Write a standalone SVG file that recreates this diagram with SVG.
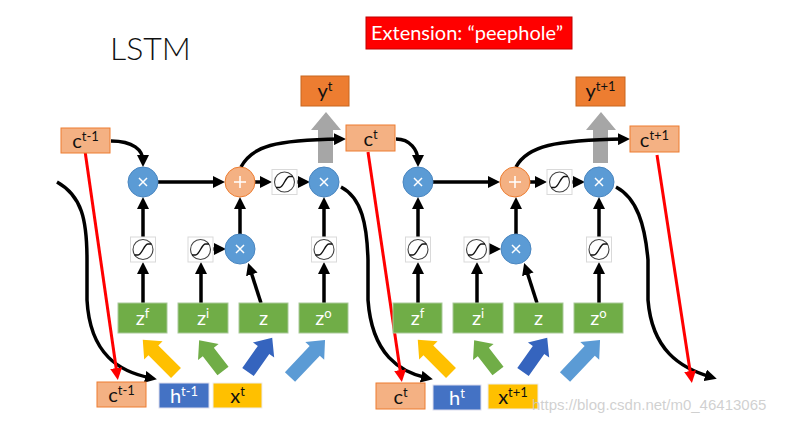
<svg xmlns="http://www.w3.org/2000/svg" width="789" height="424" viewBox="0 0 789 424">
<defs>
<style>
text{font-family:Lato,"Liberation Sans","DejaVu Sans",sans-serif;}
.cbox{fill:#F4B183;stroke:#ED7D31;stroke-width:1;}
.ybox{fill:#ED7D31;stroke:#C8661F;stroke-width:1;}
.gbox{fill:#70AD47;stroke:#A9C99A;stroke-width:1;}
.mul{fill:#5B9BD5;stroke:#4A86C0;stroke-width:1;}
.add{fill:#F4B183;stroke:#ED7D31;stroke-width:1;}
.op{stroke:#fff;stroke-width:1.5;fill:none;}
.sigbox{fill:#fff;stroke:#d9d9d9;stroke-width:1;}
.sigc{fill:#fff;stroke:#444;stroke-width:1.1;}
.sigs{fill:none;stroke:#111;stroke-width:1.4;}
.lbl{font-size:20px;fill:#111;}
.wl{font-size:20px;fill:#fff;}
.sup{font-size:13px;}
.conn{fill:none;stroke:#000;stroke-width:3.5;}
.red{fill:none;stroke:#F00;stroke-width:3;}
</style>
<marker id="ah" viewBox="0 0 10 10" refX="5" refY="5" markerWidth="12" markerHeight="12" markerUnits="userSpaceOnUse" orient="auto"><path d="M0,0 L10,5 L0,10 z" fill="#000"/></marker>
<marker id="ahr" viewBox="0 0 10 10" refX="5" refY="5" markerWidth="12" markerHeight="12" markerUnits="userSpaceOnUse" orient="auto"><path d="M0,0 L10,5 L0,10 z" fill="#F00"/></marker>
<g id="sigsym"><rect class="sigbox" x="-12.5" y="-12.5" width="25" height="25"/><circle class="sigc" cx="0" cy="0" r="10"/><path class="sigs" d="M-8.5,5.5 L-5,5.5 C-1,5.5 1,-5.5 5,-5.5 L8.5,-5.5"/></g>
</defs>
<rect width="789" height="424" fill="#fff"/>

<text x="110" y="60" font-size="32" font-weight="300" fill="#111">LSTM</text>
<g id="ext"><rect x="366" y="17" width="206" height="32" fill="#F00" stroke="#C00000" stroke-width="1"/><text x="371" y="40" font-size="20" fill="#fff" textLength="192" lengthAdjust="spacingAndGlyphs">Extension: “peephole”</text></g>

<!-- gray output arrows -->
<g id="gray1"><polygon points="318,163 333,163 333,130 341,130 326,112 311,130 318,130" fill="#A6A6A6"/></g>
<g id="gray2"><polygon points="593,163 608,163 608,130 616,130 601,112 586,130 593,130" fill="#A6A6A6"/></g>

<!-- connectors -->
<g id="connectors">
<path class="conn" marker-end="url(#ah)" d="M111,141 C133,141 143,150 143,161"/>
<path class="conn" marker-end="url(#ah)" d="M158,182 L219,182"/>
<path class="conn" marker-end="url(#ah)" d="M255,182 L266,182"/>
<path class="conn" marker-end="url(#ah)" d="M297,182 L304,182"/>
<path class="conn" marker-end="url(#ah)" d="M241,167 C252,146 275,140 340,139"/>
<path class="conn" marker-end="url(#ah)" d="M143,237 L143,203"/>
<path class="conn" marker-end="url(#ah)" d="M143,303 L143,268"/>
<path class="conn" marker-end="url(#ah)" d="M201,303 L201,268"/>
<path class="conn" marker-end="url(#ah)" d="M213,249 L220,249"/>
<path class="conn" marker-end="url(#ah)" d="M261,303 L250,268.7"/>
<path class="conn" marker-end="url(#ah)" d="M240,234 L240,203"/>
<path class="conn" marker-end="url(#ah)" d="M324,303 L324,268"/>
<path class="conn" marker-end="url(#ah)" d="M324,237 L324,203"/>
<path class="conn" marker-end="url(#ah)" d="M57,182 C82,196 87,220 87,260 L87,300 C90,355 120,372 151,378"/>
<path class="red" marker-end="url(#ahr)" d="M85,151 L117,374"/>

<path class="conn" marker-end="url(#ah)" d="M396,139 C410,139 418,150 418,161"/>
<path class="conn" marker-end="url(#ah)" d="M433,182 L494,182"/>
<path class="conn" marker-end="url(#ah)" d="M530,182 L541,182"/>
<path class="conn" marker-end="url(#ah)" d="M572,182 L579,182"/>
<path class="conn" marker-end="url(#ah)" d="M516,167 C527,146 555,140 624,139"/>
<path class="conn" marker-end="url(#ah)" d="M418,237 L418,203"/>
<path class="conn" marker-end="url(#ah)" d="M418,303 L418,268"/>
<path class="conn" marker-end="url(#ah)" d="M477,303 L477,268"/>
<path class="conn" marker-end="url(#ah)" d="M489,249 L495,249"/>
<path class="conn" marker-end="url(#ah)" d="M537,303 L526,268.7"/>
<path class="conn" marker-end="url(#ah)" d="M516,234 L516,203"/>
<path class="conn" marker-end="url(#ah)" d="M599,303 L599,268"/>
<path class="conn" marker-end="url(#ah)" d="M599,237 L599,203"/>
<path class="conn" marker-end="url(#ah)" d="M341,187 C362,198 367,225 368,260 L368,300 C372,355 400,372 427,378"/>
<path class="red" marker-end="url(#ahr)" d="M368,152 L401,376"/>

<path class="conn" marker-end="url(#ah)" d="M616,187 C637,198 645,225 648,260 L648,300 C652,350 680,368 711,377"/>
<path class="red" marker-end="url(#ahr)" d="M657,155 L691,377"/>
</g>

<!-- block input arrows -->
<g id="in1">
<polygon transform="translate(176,373) rotate(-135)" points="0,-7 32,-7 32,-13 47,0 32,13 32,7 0,7" fill="#FFC000"/>
<polygon transform="translate(223,371) rotate(-127.7)" points="0,-7 24,-7 24,-13 39,0 24,13 24,7 0,7" fill="#70AD47"/>
<polygon transform="translate(248,372) rotate(-54.8)" points="0,-7 27,-7 27,-13 42,0 27,13 27,7 0,7" fill="#3564BE"/>
<polygon transform="translate(290,377) rotate(-46.6)" points="0,-7 36,-7 36,-13 51,0 36,13 36,7 0,7" fill="#5B9BD5"/>
</g>
<g id="in2">
<polygon transform="translate(451,373) rotate(-135)" points="0,-7 32,-7 32,-13 47,0 32,13 32,7 0,7" fill="#FFC000"/>
<polygon transform="translate(498,371) rotate(-127.7)" points="0,-7 24,-7 24,-13 39,0 24,13 24,7 0,7" fill="#70AD47"/>
<polygon transform="translate(523,372) rotate(-54.8)" points="0,-7 27,-7 27,-13 42,0 27,13 27,7 0,7" fill="#3564BE"/>
<polygon transform="translate(565,377) rotate(-46.6)" points="0,-7 36,-7 36,-13 51,0 36,13 36,7 0,7" fill="#5B9BD5"/>
</g>

<!-- cell 1 nodes -->
<g id="c_tm1_top"><rect class="cbox" x="61" y="128" width="49" height="25"/><text class="lbl" x="85.5" y="148" text-anchor="middle">c<tspan class="sup" dy="-7">t-1</tspan></text></g>
<g id="y_t"><rect class="ybox" x="301" y="76" width="48" height="30"/><text class="lbl" x="325" y="98" text-anchor="middle">y<tspan class="sup" dy="-7">t</tspan></text></g>
<g id="c_t_top"><rect class="cbox" x="346" y="125" width="49" height="26"/><text class="lbl" x="370.5" y="146" text-anchor="middle">c<tspan class="sup" dy="-7">t</tspan></text></g>
<g id="mul_f1"><circle class="mul" cx="143" cy="182" r="15"/><path class="op" d="M139,178 L147,186 M147,178 L139,186"/></g>
<g id="add1"><circle class="add" cx="240" cy="182" r="15"/><path class="op" d="M240,176 L240,188 M234,182 L246,182"/></g>
<g id="sig_c1"><use href="#sigsym" x="284.5" y="182"/></g>
<g id="mul_o1"><circle class="mul" cx="324" cy="182" r="15"/><path class="op" d="M320,178 L328,186 M328,178 L320,186"/></g>
<g id="sig_f1"><use href="#sigsym" x="143" y="249.5"/></g>
<g id="sig_i1"><use href="#sigsym" x="200.5" y="249.5"/></g>
<g id="mul_i1"><circle class="mul" cx="240" cy="249" r="15"/><path class="op" d="M236,245 L244,253 M244,245 L236,253"/></g>
<g id="sig_o1"><use href="#sigsym" x="324" y="249.5"/></g>
<g id="zf1"><rect class="gbox" x="118" y="303" width="49" height="30"/><text class="wl" x="142.5" y="325" text-anchor="middle">z<tspan class="sup" dy="-7">f</tspan></text></g>
<g id="zi1"><rect class="gbox" x="178" y="303" width="50" height="30"/><text class="wl" x="203" y="325" text-anchor="middle">z<tspan class="sup" dy="-7">i</tspan></text></g>
<g id="z1"><rect class="gbox" x="239" y="303" width="49" height="30"/><text class="wl" x="263.5" y="325" text-anchor="middle">z</text></g>
<g id="zo1"><rect class="gbox" x="299" y="303" width="49" height="30"/><text class="wl" x="323.5" y="325" text-anchor="middle">z<tspan class="sup" dy="-7">o</tspan></text></g>
<g id="c_tm1_bot"><rect class="cbox" x="97" y="382" width="49" height="25"/><text class="lbl" x="121.5" y="402" text-anchor="middle">c<tspan class="sup" dy="-7">t-1</tspan></text></g>
<g id="h_tm1"><rect x="159" y="383" width="50" height="25" fill="#4472C4" stroke="#dde" stroke-width="1"/><text class="wl" x="184" y="403" text-anchor="middle">h<tspan class="sup" dy="-7">t-1</tspan></text></g>
<g id="x_t"><rect x="213" y="383" width="49" height="25" fill="#FFC000" stroke="#eee" stroke-width="1"/><text class="lbl" x="237.5" y="403" text-anchor="middle">x<tspan class="sup" dy="-7">t</tspan></text></g>

<!-- cell 2 nodes -->
<g id="y_t1"><rect class="ybox" x="576" y="77" width="49" height="29"/><text class="lbl" x="600.5" y="98" text-anchor="middle">y<tspan class="sup" dy="-7">t+1</tspan></text></g>
<g id="c_t1_top"><rect class="cbox" x="630" y="126" width="49" height="26"/><text class="lbl" x="654.5" y="147" text-anchor="middle">c<tspan class="sup" dy="-7">t+1</tspan></text></g>
<g id="mul_f2"><circle class="mul" cx="418" cy="182" r="15"/><path class="op" d="M414,178 L422,186 M422,178 L414,186"/></g>
<g id="add2"><circle class="add" cx="515" cy="182" r="15"/><path class="op" d="M515,176 L515,188 M509,182 L521,182"/></g>
<g id="sig_c2"><use href="#sigsym" x="559.5" y="182"/></g>
<g id="mul_o2"><circle class="mul" cx="599" cy="182" r="15"/><path class="op" d="M595,178 L603,186 M603,178 L595,186"/></g>
<g id="sig_f2"><use href="#sigsym" x="418" y="249.5"/></g>
<g id="sig_i2"><use href="#sigsym" x="476.5" y="249.5"/></g>
<g id="mul_i2"><circle class="mul" cx="516" cy="249" r="15"/><path class="op" d="M512,245 L520,253 M520,245 L512,253"/></g>
<g id="sig_o2"><use href="#sigsym" x="599" y="249.5"/></g>
<g id="zf2"><rect class="gbox" x="393" y="303" width="49" height="30"/><text class="wl" x="417.5" y="325" text-anchor="middle">z<tspan class="sup" dy="-7">f</tspan></text></g>
<g id="zi2"><rect class="gbox" x="453" y="303" width="50" height="30"/><text class="wl" x="478" y="325" text-anchor="middle">z<tspan class="sup" dy="-7">i</tspan></text></g>
<g id="z2"><rect class="gbox" x="514" y="303" width="49" height="30"/><text class="wl" x="538.5" y="325" text-anchor="middle">z</text></g>
<g id="zo2"><rect class="gbox" x="574" y="303" width="49" height="30"/><text class="wl" x="598.5" y="325" text-anchor="middle">z<tspan class="sup" dy="-7">o</tspan></text></g>
<g id="c_t_bot"><rect class="cbox" x="376" y="383" width="49" height="26"/><text class="lbl" x="400.5" y="404" text-anchor="middle">c<tspan class="sup" dy="-7">t</tspan></text></g>
<g id="h_t"><rect x="433" y="385" width="48" height="25" fill="#4472C4" stroke="#dde" stroke-width="1"/><text class="wl" x="457" y="405" text-anchor="middle">h<tspan class="sup" dy="-7">t</tspan></text></g>
<g id="x_t1"><rect x="488" y="384" width="50" height="25" fill="#FFC000" stroke="#eee" stroke-width="1"/><text class="lbl" x="513" y="404" text-anchor="middle">x<tspan class="sup" dy="-7">t+1</tspan></text></g>

<text x="532" y="410" font-size="15" fill="#c8c8c8" fill-opacity="0.85" style="font-family:'Liberation Sans',sans-serif">https://blog.csdn.net/m0_46413065</text>
</svg>
